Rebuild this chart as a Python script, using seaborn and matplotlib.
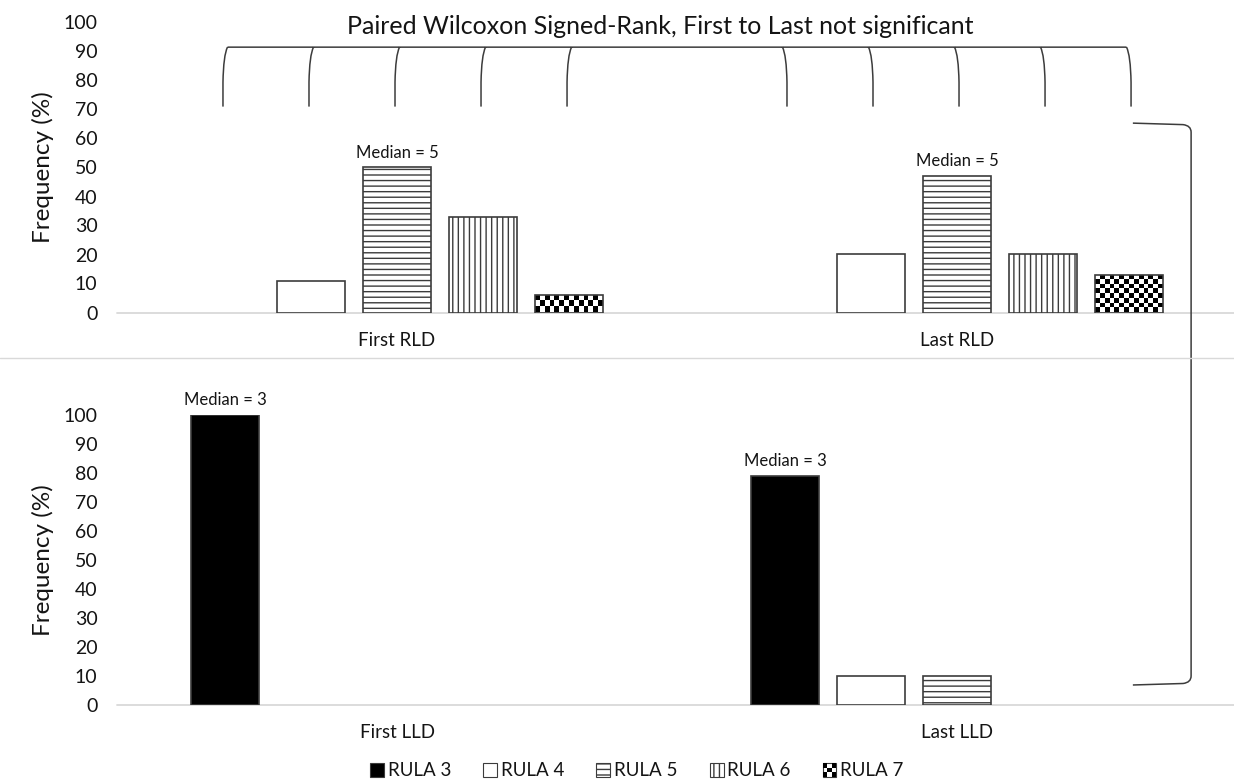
import numpy as np
import pandas as pd
import seaborn as sns
import matplotlib.pyplot as plt
from matplotlib.patches import Patch, Rectangle, PathPatch
from matplotlib.path import Path
from matplotlib.lines import Line2D
from matplotlib.legend_handler import HandlerBase
from matplotlib.transforms import IdentityTransform

# data
rula_levels = ['RULA 3', 'RULA 4', 'RULA 5', 'RULA 6', 'RULA 7']
top_periods = ['First RLD', 'Last RLD']
top_first = [0, 11, 50, 33, 6]
top_last = [0, 20, 47, 20, 13]
bottom_periods = ['First LLD', 'Last LLD']
bottom_first = [100, 0, 0, 0, 0]
bottom_last = [79, 10, 10, 0, 0]
top_median_level, top_median_text = 'RULA 5', 'Median = 5'
bottom_median_level, bottom_median_text = 'RULA 3', 'Median = 3'
title = 'Paired Wilcoxon Signed-Rank, First to Last not significant'
ylab = 'Frequency (%)'

fills = ['black', 'white', 'white', 'white', 'white']
hatches = ['', '', '---', '|||', '']
EDGE = '#3c3c3c'
TXT = '#141414'

sns.set_theme(style='white')
plt.rcParams['font.family'] = ['Lato', 'DejaVu Sans']
plt.rcParams['hatch.linewidth'] = 1.0
plt.rcParams['hatch.color'] = EDGE

W, H = 1234, 781
fig = plt.figure(figsize=(W / 100, H / 100), dpi=100)
ax_top = fig.add_axes([117 / W, 1 - 312.5 / H, (W - 117) / W, 290 / H])
ax_bot = fig.add_axes([117 / W, 1 - 705 / H, (W - 117) / W, 290 / H])


def long_df(periods, first, last):
    return pd.DataFrame({'period': np.repeat(periods, len(rula_levels)),
                         'rula': rula_levels * 2,
                         'freq': first + last})


def checker_fill(ax, p, cell_px=5):
    # checkerboard fill clipped to the bar
    x0, w, h = p.get_x(), p.get_width(), p.get_height()
    (px0, py0), (px1, py1) = ax.transData.transform([(x0, 0), (x0 + w, h)])
    nx = max(1, int(round((px1 - px0) / cell_px)))
    ny = max(1, int(round((py1 - py0) / cell_px)))
    board = (np.add.outer(np.arange(ny), np.arange(nx)) % 2).astype(float)
    im = ax.imshow(board, cmap='gray', vmin=0, vmax=1, extent=(x0, x0 + w, 0, h),
                   aspect='auto', interpolation='nearest', zorder=1.5, origin='lower')
    im.set_clip_path(p)
    p.set_facecolor('none')
    p.set_zorder(2)


def draw_panel(ax, periods, first, last, med_level, med_text):
    df = long_df(periods, first, last)
    sns.barplot(data=df, x='period', y='freq', hue='rula', order=periods,
                hue_order=rula_levels, palette=fills, saturation=1,
                width=0.768, gap=0.21, errorbar=None, edgecolor=EDGE,
                linewidth=1.2, legend=False, ax=ax)
    ax.set_xlim(-0.5, 1.4946)
    ax.set_ylim(0, 100)
    for level, cont, hatch in zip(rula_levels, ax.containers, hatches):
        for p in cont:
            p.set_hatch(hatch)
            if p.get_height() == 0:
                p.set_visible(False)
                continue
            if level == 'RULA 7':
                checker_fill(ax, p)
            if level == med_level:
                ax.annotate(med_text, (p.get_x() + p.get_width() / 2, p.get_height()),
                            xytext=(0, 5), textcoords='offset points',
                            ha='center', va='bottom', fontsize=12, color=TXT)
    ax.set_xlim(-0.5, 1.4946)
    ax.set_ylim(0, 100)
    ax.axhline(0, color='#d9d9d9', lw=1.3, zorder=0.5, clip_on=False)
    ax.set_yticks(range(0, 101, 10))
    ax.tick_params(axis='y', length=0, pad=14, labelsize=14, labelcolor=TXT)
    ax.tick_params(axis='x', length=0, pad=14, labelsize=13.5, labelcolor=TXT)
    ax.set_xlabel('')
    ax.set_ylabel('')
    sns.despine(ax=ax, left=True, bottom=True)


draw_panel(ax_top, top_periods, top_first, top_last, top_median_level, top_median_text)
draw_panel(ax_bot, bottom_periods, bottom_first, bottom_last, bottom_median_level, bottom_median_text)

fig.text(43 / W, 1 - 167 / H, ylab, rotation=90, ha='center', va='center', fontsize=17.5, color=TXT)
fig.text(43 / W, 1 - 560 / H, ylab, rotation=90, ha='center', va='center', fontsize=17.5, color=TXT)
fig.text(660 / W, 1 - 26 / H, title, ha='center', va='center', fontsize=18, color=TXT)

# thin separator between the two panels
fig.add_artist(Line2D([0, 1], [1 - 358 / H] * 2, color='#d9d9d9', lw=1.0, transform=fig.transFigure))

# brackets above the top bars, one stroke per bar position
centres = sorted(p.get_x() + p.get_width() / 2 for c in ax_top.containers for p in c)
T = ax_top.transData.transform((0, 91.5))[1]
B = ax_top.transData.transform((0, 71))[1]
verts, codes = [], []
xs = [ax_top.transData.transform((xc, 0))[0] for xc in centres]
verts += [(xs[0] + 2.5, T), (xs[-1] - 2.5, T)]
codes += [Path.MOVETO, Path.LINETO]
for xc, X in zip(centres, xs):
    s = -1 if xc < 0.5 else 1
    verts += [(X - s * 2.5, T), (X + s * 1.5, T - 8), (X + s * 2, T - 35), (X + s * 2, B)]
    codes += [Path.MOVETO, Path.CURVE3, Path.CURVE3, Path.LINETO]
fig.add_artist(PathPatch(Path(verts, codes), fill=False, ec=EDGE, lw=1.1,
                         transform=IdentityTransform()))

# right bracket joining the two panels
xl, yt = ax_top.transData.transform((1.314, 65.3))
xr = ax_top.transData.transform((1.418, 0))[0]
yb = ax_bot.transData.transform((0, 6.9))[1]
rv = [(xl, yt), (xr - 8, yt - 1.5), (xr, yt - 2.5), (xr, yt - 9), (xr, yb + 9),
      (xr, yb + 2.5), (xr - 8, yb + 1.5), (xl, yb)]
rc = [Path.MOVETO, Path.LINETO, Path.CURVE3, Path.CURVE3, Path.LINETO,
      Path.CURVE3, Path.CURVE3, Path.LINETO]
fig.add_artist(PathPatch(Path(rv, rc), fill=False, ec=EDGE, lw=1.1,
                         transform=IdentityTransform()))


class CheckerHandler(HandlerBase):
    def create_artists(self, legend, orig_handle, xdescent, ydescent, width, height, fontsize, trans):
        s = min(width, height)
        x0, y0 = -xdescent, -ydescent
        arts = [Rectangle((x0, y0), s, s, fc='white', ec=EDGE, lw=0.8, transform=trans)]
        n = 3
        cell = s / n
        for i in range(n):
            for j in range(n):
                if (i + j) % 2 == 0:
                    arts.append(Rectangle((x0 + i * cell, y0 + j * cell), cell, cell,
                                          fc='black', ec='none', transform=trans))
        return arts


handles = [Patch(facecolor=f, edgecolor=EDGE, hatch=h, lw=0.8) for f, h in zip(fills[:4], hatches[:4])]
checker = Patch(facecolor='white')
handles.append(checker)
fig.legend(handles, rula_levels, loc='center', bbox_to_anchor=(637 / W, 1 - 771 / H), ncol=5,
           frameon=False, handlelength=0.75, handleheight=0.75, handletextpad=0.2,
           columnspacing=1.7, fontsize=13.5, labelcolor=TXT,
           handler_map={checker: CheckerHandler()})

fig.savefig('out.png', dpi=100, facecolor='white')
